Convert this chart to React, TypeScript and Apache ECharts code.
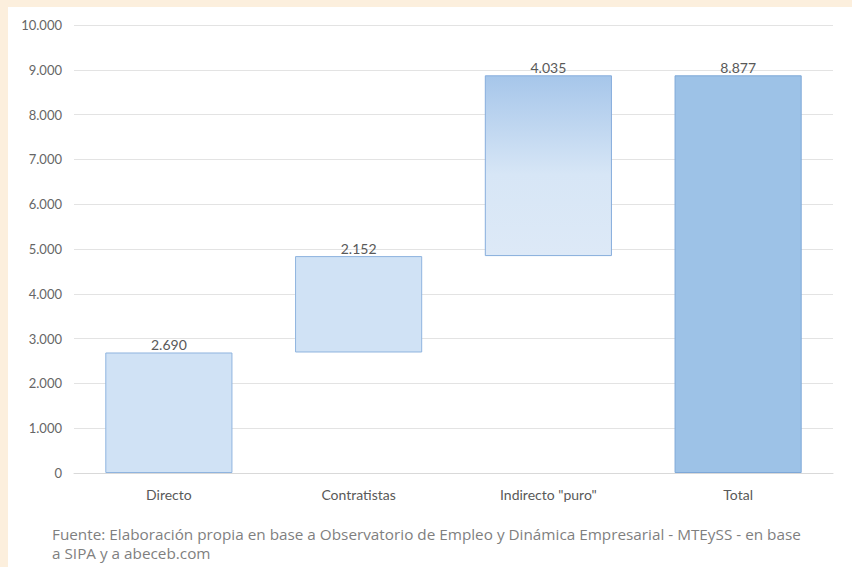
import React, { useEffect, useRef } from "react";
import * as echarts from "echarts";

const categories = ["Directo", "Contratistas", "Indirecto \"puro\"", "Total"];
const baseValues = [0, 2690, 4842, 0];
const barValues = [2690, 2152, 4035, 8877];
const yTicks = { min: 0, max: 10000, interval: 1000 };
const sourceLines = [
  "Fuente: Elaboración propia en base a Observatorio de Empleo y Dinámica Empresarial - MTEySS - en base",
  "a SIPA y a abeceb.com",
];

const fmt = (v: number) => {
  const s = Math.round(v).toString();
  return s.replace(/\B(?=(\d{3})+(?!\d))/g, ".");
};

const FONT = "Lato, 'Open Sans', sans-serif";
const NOTE_FONT = "'Open Sans', sans-serif";

export default function App() {
  const ref = useRef<HTMLDivElement>(null);
  useEffect(() => {
    if (!ref.current) return;
    const chart = echarts.init(ref.current, undefined, { renderer: "svg" });
    const lightStyle = { color: "#d0e2f5", borderColor: "#8fb4df", borderWidth: 1 };
    const gradStyle = {
      color: new echarts.graphic.LinearGradient(0, 0, 0, 1, [
        { offset: 0, color: "#a6c6ea" },
        { offset: 0.55, color: "#d7e6f6" },
        { offset: 1, color: "#dde9f7" },
      ]),
      borderColor: "#86addc",
      borderWidth: 1,
    };
    const totalStyle = { color: "#9dc2e7", borderColor: "#7ea8d8", borderWidth: 1 };
    const styles = [lightStyle, lightStyle, gradStyle, totalStyle];
    chart.setOption({
      animation: false,
      textStyle: { fontFamily: FONT },
      grid: { left: 74, right: 19, top: 25, bottom: 94 },
      xAxis: {
        type: "category",
        data: categories,
        axisLine: { lineStyle: { color: "#d9d9d9", width: 1 } },
        axisTick: { show: false },
        axisLabel: { color: "#595959", fontSize: 14, margin: 14, fontFamily: FONT },
      },
      yAxis: {
        type: "value",
        min: yTicks.min,
        max: yTicks.max,
        interval: yTicks.interval,
        axisLine: { show: false },
        axisTick: { show: false },
        splitLine: { lineStyle: { color: "#e3e3e3", width: 1 } },
        axisLabel: {
          color: "#666666",
          fontSize: 13,
          margin: 12,
          fontFamily: FONT,
          formatter: (v: number) => fmt(v),
        },
      },
      series: [
        {
          type: "bar",
          stack: "w",
          data: baseValues,
          itemStyle: { color: "transparent" },
          barWidth: "67%",
          silent: true,
        },
        {
          type: "bar",
          stack: "w",
          barWidth: "67%",
          data: barValues.map((v, i) => ({ value: v, itemStyle: styles[i] })),
          label: {
            show: true,
            position: "top",
            distance: 1,
            color: "#595959",
            fontSize: 14,
            fontFamily: FONT,
            formatter: (p: any) => fmt(p.value),
          },
        },
      ],
      graphic: [
        {
          type: "text",
          left: 52,
          top: 524,
          style: {
            text: sourceLines.join("\n"),
            fill: "#7f7f7f",
            font: `15.3px ${NOTE_FONT}`,
            lineHeight: 19,
          },
        },
      ],
    });
    return () => chart.dispose();
  }, []);
  return (
    <div style={{ position: "absolute", left: 0, top: 0, width: 852, height: 567, background: "#fcefdd" }}>
      <div style={{ position: "absolute", left: 8, top: 7, width: 844, height: 560, background: "#ffffff" }} />
      <div ref={ref} style={{ position: "absolute", left: 0, top: 0, width: 852, height: 567 }} />
    </div>
  );
}
